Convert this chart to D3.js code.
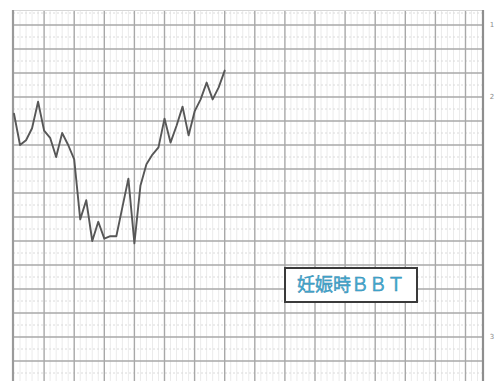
<!DOCTYPE html>
<html><head><meta charset="utf-8">
<script src="https://cdn.jsdelivr.net/npm/d3@7"></script>
<style>html,body{margin:0;padding:0;background:#fff;}svg{display:block;}</style>
</head><body>
<svg id="chart" width="497" height="381"></svg>
<script>
// ---- data ----
const days = [0,1,2,3,4,5,6,7,8,9,10,11,12,13,14,15,16,17,18,19,20,21,22,23,24,25,26,27,28,29,30,31,32,33,34,35];
const temps = [36.93,36.80,36.82,36.87,36.98,36.86,36.83,36.75,36.85,36.80,36.74,36.49,36.57,36.40,36.48,36.41,36.42,36.42,36.54,36.66,36.39,36.63,36.72,36.76,36.79,36.91,36.81,36.88,36.96,36.84,36.94,36.99,37.06,36.99,37.04,37.11];
const rightTickTemps = [37.3, 37.0, 36.0];
const rightTickLabels = ["1", "2", "3"];
const labelText = "妊娠時ＢＢＴ";

// ---- layout ----
const svg = d3.select("#chart");
const gridLeft = 13, gridRight = 483, gridTop = 10, gridBottom = 381;

const x = d3.scaleLinear().domain([0, 75]).range([14, 465.5]);
const y = d3.scaleLinear().domain([37.3, 35.9]).range([25, 361]);

const gGrid = svg.append("g");

// minor verticals (each day)
const minorDays = d3.range(0, 78, 1);
gGrid.selectAll("line.vmin").data(minorDays.filter(d => d % 5 !== 0)).enter()
  .append("line")
  .attr("x1", d => x(d)).attr("x2", d => x(d))
  .attr("y1", gridTop).attr("y2", gridBottom)
  .attr("stroke", "#ebebeb").attr("stroke-width", 1);

// minor horizontals (0.05 steps) dotted
const minorT = d3.range(0, 16).map(i => 37.35 - i * 0.1);
gGrid.selectAll("line.hmin").data(minorT).enter()
  .append("line")
  .attr("x1", gridLeft).attr("x2", gridRight)
  .attr("y1", d => y(d)).attr("y2", d => y(d))
  .attr("stroke", "#dadada").attr("stroke-width", 1)
  .attr("stroke-dasharray", "2,2");

// major verticals
const majorDays = d3.range(5, 76, 5);
gGrid.selectAll("line.vmaj").data(majorDays).enter()
  .append("line")
  .attr("x1", d => x(d)).attr("x2", d => x(d))
  .attr("y1", gridTop).attr("y2", gridBottom)
  .attr("stroke", "#a8a8a8").attr("stroke-width", 1.4);

// major horizontals
const majorT = d3.range(0, 16).map(i => +(37.3 - i * 0.1).toFixed(2));
gGrid.selectAll("line.hmaj").data(majorT).enter()
  .append("line")
  .attr("x1", gridLeft).attr("x2", gridRight)
  .attr("y1", d => y(d)).attr("y2", d => y(d))
  .attr("stroke", "#a8a8a8").attr("stroke-width", 1.4);

// top edge
gGrid.append("line").attr("x1", gridLeft).attr("x2", gridRight)
  .attr("y1", gridTop + 0.5).attr("y2", gridTop + 0.5)
  .attr("stroke", "#d6d6d6").attr("stroke-width", 1);

// left and right borders
gGrid.append("line").attr("x1", gridLeft).attr("x2", gridLeft)
  .attr("y1", gridTop).attr("y2", gridBottom)
  .attr("stroke", "#9a9a9a").attr("stroke-width", 2.2);
gGrid.append("line").attr("x1", gridRight).attr("x2", gridRight)
  .attr("y1", gridTop).attr("y2", gridBottom)
  .attr("stroke", "#8e8e8e").attr("stroke-width", 2.2);

// right tick labels
svg.selectAll("text.rt").data(rightTickTemps).enter()
  .append("text")
  .attr("x", 492).attr("y", d => y(d))
  .attr("dy", "0.35em")
  .attr("text-anchor", "middle")
  .attr("font-family", "DejaVu Sans, sans-serif")
  .attr("font-size", 7).attr("fill", "#8a8a8a")
  .text((d, i) => rightTickLabels[i]);

// BBT line
const line = d3.line().x((d, i) => x(days[i])).y(d => y(d));
svg.append("path").datum(temps)
  .attr("d", line)
  .attr("fill", "none")
  .attr("stroke", "#575757")
  .attr("stroke-width", 1.9)
  .attr("stroke-linejoin", "round")
  .attr("stroke-linecap", "round");

// label box
const box = svg.append("g");
box.append("rect")
  .attr("x", 285).attr("y", 268).attr("width", 132).attr("height", 34)
  .attr("fill", "#fff").attr("stroke", "#3a3a3a").attr("stroke-width", 2);
box.append("text")
  .attr("x", 351).attr("y", 285).attr("dy", "0.36em")
  .attr("text-anchor", "middle")
  .attr("font-family", "'Noto Sans CJK JP', sans-serif")
  .attr("font-size", 18)
  .attr("fill", "#45b0d6")
  .attr("stroke", "#2f7fa8").attr("stroke-width", 0.4)
  .text(labelText);
</script>
</body></html>
